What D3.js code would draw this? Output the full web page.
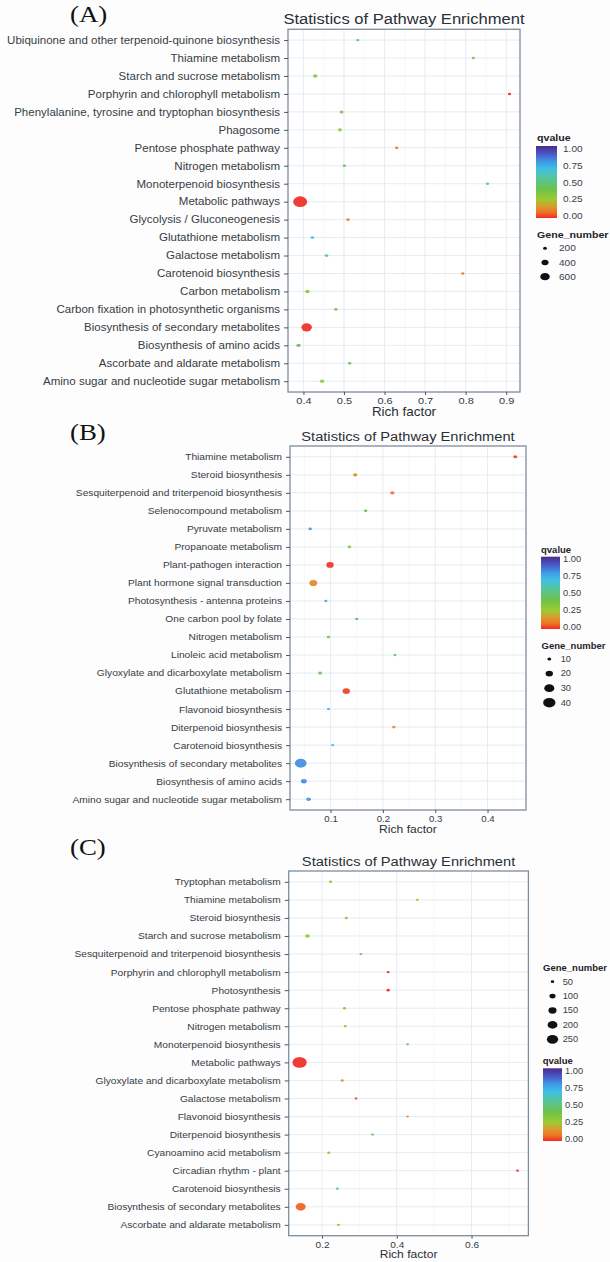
<!DOCTYPE html>
<html><head><meta charset="utf-8">
<script src="https://cdn.jsdelivr.net/npm/d3@7"></script>
<style>
html,body{margin:0;padding:0;background:#fdfdfe;}
svg{display:block;font-family:"Liberation Sans",Arial,Helvetica,sans-serif;}
</style></head><body>
<svg id="chart" width="610" height="1262"></svg>
<script>
// ---------------- DATA ----------------
const categoriesA = ["Ubiquinone and other terpenoid-quinone biosynthesis","Thiamine metabolism","Starch and sucrose metabolism","Porphyrin and chlorophyll metabolism","Phenylalanine, tyrosine and tryptophan biosynthesis","Phagosome","Pentose phosphate pathway","Nitrogen metabolism","Monoterpenoid biosynthesis","Metabolic pathways","Glycolysis / Gluconeogenesis","Glutathione metabolism","Galactose metabolism","Carotenoid biosynthesis","Carbon metabolism","Carbon fixation in photosynthetic organisms","Biosynthesis of secondary metabolites","Biosynthesis of amino acids","Ascorbate and aldarate metabolism","Amino sugar and nucleotide sugar metabolism"];
const richA  = [0.534,0.819,0.429,0.908,0.494,0.490,0.630,0.501,0.854,0.392,0.510,0.422,0.457,0.793,0.410,0.480,0.408,0.388,0.514,0.446];
const qvalA  = [0.45,0.35,0.30,0.01,0.32,0.28,0.12,0.40,0.45,0.00,0.13,0.68,0.60,0.10,0.30,0.38,0.00,0.42,0.40,0.30];
const genesA = [160,165,235,170,200,205,180,175,160,1070,180,180,185,165,230,180,690,225,170,215];

const categoriesB = ["Thiamine metabolism","Steroid biosynthesis","Sesquiterpenoid and triterpenoid biosynthesis","Selenocompound metabolism","Pyruvate metabolism","Propanoate metabolism","Plant-pathogen interaction","Plant hormone signal transduction","Photosynthesis - antenna proteins","One carbon pool by folate","Nitrogen metabolism","Linoleic acid metabolism","Glyoxylate and dicarboxylate metabolism","Glutathione metabolism","Flavonoid biosynthesis","Diterpenoid biosynthesis","Carotenoid biosynthesis","Biosynthesis of secondary metabolites","Biosynthesis of amino acids","Amino sugar and nucleotide sugar metabolism"];
const richB  = [0.453,0.147,0.218,0.167,0.061,0.136,0.099,0.067,0.091,0.150,0.096,0.223,0.080,0.130,0.096,0.221,0.104,0.043,0.049,0.058];
const qvalB  = [0.02,0.12,0.08,0.40,0.78,0.33,0.01,0.12,0.75,0.42,0.38,0.40,0.42,0.02,0.74,0.13,0.67,0.80,0.80,0.78];
const genesB = [10,11,11,9,9,9,20,22,8,9,9,8,10,20,8,9,8,37,15,12];

const categoriesC = ["Tryptophan metabolism","Thiamine metabolism","Steroid biosynthesis","Starch and sucrose metabolism","Sesquiterpenoid and triterpenoid biosynthesis","Porphyrin and chlorophyll metabolism","Photosynthesis","Pentose phosphate pathway","Nitrogen metabolism","Monoterpenoid biosynthesis","Metabolic pathways","Glyoxylate and dicarboxylate metabolism","Galactose metabolism","Flavonoid biosynthesis","Diterpenoid biosynthesis","Cyanoamino acid metabolism","Circadian rhythm - plant","Carotenoid biosynthesis","Biosynthesis of secondary metabolites","Ascorbate and aldarate metabolism"];
const richC  = [0.223,0.455,0.265,0.161,0.304,0.377,0.377,0.260,0.262,0.429,0.140,0.254,0.291,0.429,0.335,0.218,0.723,0.241,0.143,0.244];
const qvalC  = [0.30,0.25,0.30,0.30,0.38,0.01,0.00,0.18,0.22,0.42,0.00,0.15,0.05,0.12,0.38,0.22,0.01,0.55,0.06,0.28];
const genesC = [45,40,45,70,42,45,48,45,42,40,365,45,42,38,40,45,42,42,205,45];

const ticksA = [0.4,0.5,0.6,0.7,0.8,0.9];
const ticksB = [0.1,0.2,0.3,0.4];
const ticksC = [0.2,0.4,0.6];
const qBreaks = [0,0.25,0.5,0.75,1];
const geneBreaksA = [200,400,600];
const geneBreaksB = [10,20,30,40];
const geneBreaksC = [50,100,150,200,250];
const panelLabels = ["(A)","(B)","(C)"];
const titleText = "Statistics of Pathway Enrichment";
const xTitle = "Rich factor";

// ---------------- STYLE / LAYOUT ----------------
const SX = 1.12;
const qStops = [0,0.08,0.16,0.26,0.40,0.55,0.68,0.78,0.88,1];
const qCols  = ["#ef2b25","#ef7424","#d99b2e","#9ccb32","#6cc24a","#58c59a","#3fbfe3","#3d9be6","#4a5ccb","#4b2a8c"];
const color = d3.scaleLinear().domain(qStops).range(qCols).clamp(true);

const svg = d3.select("#chart");
const defs = svg.append("defs");
const grad = defs.append("linearGradient").attr("id","qgrad")
  .attr("x1",0).attr("y1",1).attr("x2",0).attr("y2",0);
grad.selectAll("stop").data(qStops).join("stop")
  .attr("offset",d=>d).attr("stop-color",d=>color(d));

function stretch(sel){
  sel.each(function(){
    const t = d3.select(this);
    const X = +t.attr("x")||0, Y = +t.attr("y")||0;
    t.attr("x",0).attr("y",0).attr("transform",`translate(${X},${Y}) scale(${SX},1)`);
  });
}

const panels = [
  {label:panelLabels[0], cats:categoriesA, rich:richA, q:qvalA, genes:genesA, ticks:ticksA, breaks:geneBreaksA,
   labelY:22, titleY:18.5, titleSize:14.8, box:[288,29.3,520,392], catFont:10.3, tickFont:9.8, xtFont:12, xtY:415.5,
   leg:{font:9, tfont:9.5, qt:[537,141], bar:[536,146,21,72], ql:563, gt:[537,237.5], gx:545, gy:[248.3,276.7], gl:559, r:[1.5,3.65]}},
  {label:panelLabels[1], cats:categoriesB, rich:richB, q:qvalB, genes:genesB, ticks:ticksB, breaks:geneBreaksB,
   labelY:440, titleY:436, titleSize:13.1, box:[290,446,526,810], catFont:9.1, tickFont:8.6, xtFont:10.8, xtY:833,
   leg:{font:8.3, tfont:8.5, qt:[541,552.5], bar:[541,556.7,19,72.3], ql:563, gt:[541.5,649], gx:549.3, gy:[659,702.7], gl:560.7, r:[1.5,4.75]}},
  {label:panelLabels[2], cats:categoriesC, rich:richC, q:qvalC, genes:genesC, ticks:ticksC, breaks:geneBreaksC,
   labelY:855, titleY:861, titleSize:13.1, box:[288.7,871,528.4,1235.7], catFont:9.1, tickFont:9, xtFont:10.8, xtY:1258,
   leg:{font:8.3, tfont:8.5, qt:[542.7,1064], bar:[543,1068.3,19,72.7], ql:565, gt:[543,971], gx:552.5, gy:[981.7,1039.3], gl:562.7, r:[1.35,4.35]}}
];

function drawPanel(p){
  const g = svg.append("g");
  const [x0,y0,x1,y1] = p.box;
  const ext = d3.extent(p.rich), pad = (ext[1]-ext[0])*0.05;
  const x = d3.scaleLinear().domain([ext[0]-pad, ext[1]+pad]).range([x0,x1]);
  const y = d3.scalePoint().domain(p.cats).range([y0,y1]).padding(0.6);
  const r = d3.scalePow().exponent(0.5).domain(d3.extent(p.breaks)).range(p.leg.r);

  g.append("text").attr("x",70).attr("y",p.labelY)
    .attr("font-family","'Liberation Serif','Times New Roman',serif").attr("font-size",24)
    .attr("fill","#111").text(p.label).call(stretch);
  g.append("text").attr("x",(x0+x1)/2).attr("y",p.titleY).attr("dy","0.35em")
    .attr("text-anchor","middle").attr("font-size",p.titleSize).attr("fill","#2a2f35")
    .text(titleText).call(stretch);

  g.append("rect").attr("x",x0).attr("y",y0).attr("width",x1-x0).attr("height",y1-y0).attr("fill","#ffffff");

  const step = p.ticks[1]-p.ticks[0];
  const dom = x.domain();
  const minor = d3.range(p.ticks[0]-step/2, p.ticks[p.ticks.length-1]+step, step).filter(v=>v>dom[0]&&v<dom[1]);
  g.append("g").selectAll("line").data(minor).join("line")
    .attr("x1",d=>x(d)).attr("x2",d=>x(d)).attr("y1",y0).attr("y2",y1)
    .attr("stroke","#eef3f8").attr("stroke-width",0.6);
  g.append("g").selectAll("line").data(p.ticks).join("line")
    .attr("x1",d=>x(d)).attr("x2",d=>x(d)).attr("y1",y0).attr("y2",y1)
    .attr("stroke","#e2eaf2").attr("stroke-width",0.9);
  g.append("g").selectAll("line").data(p.cats).join("line")
    .attr("x1",x0).attr("x2",x1).attr("y1",d=>y(d)).attr("y2",d=>y(d))
    .attr("stroke","#e2eaf2").attr("stroke-width",0.9);

  const data = p.cats.map((c,i)=>({c, rich:p.rich[i], q:p.q[i], n:p.genes[i]}));
  g.append("g").selectAll("ellipse").data(data).join("ellipse")
    .attr("cx",d=>x(d.rich)).attr("cy",d=>y(d.c))
    .attr("ry",d=>Math.max(0.9,r(d.n))).attr("rx",d=>Math.max(0.9,r(d.n))*1.3)
    .attr("fill",d=>color(d.q)).attr("opacity",0.92);

  g.append("rect").attr("x",x0).attr("y",y0).attr("width",x1-x0).attr("height",y1-y0)
    .attr("fill","none").attr("stroke","#7f8d9a").attr("stroke-width",1.3);

  const ya = g.append("g").attr("transform",`translate(${x0},0)`)
    .call(d3.axisLeft(y).tickSize(4).tickPadding(4));
  ya.select(".domain").remove();
  ya.selectAll(".tick line").attr("stroke","#444").attr("stroke-width",0.9);
  ya.selectAll(".tick text").attr("font-size",p.catFont).attr("fill","#363c42")
    .attr("font-family","'Liberation Sans',Arial,sans-serif").call(stretch);

  const xa = g.append("g").attr("transform",`translate(0,${y1})`)
    .call(d3.axisBottom(x).tickValues(p.ticks).tickFormat(d3.format(".1f")).tickSize(3).tickPadding(2.5));
  xa.select(".domain").remove();
  xa.selectAll(".tick line").attr("stroke","#444").attr("stroke-width",0.9);
  xa.selectAll(".tick text").attr("font-size",p.tickFont).attr("fill","#363c42")
    .attr("font-family","'Liberation Sans',Arial,sans-serif").call(stretch);

  g.append("text").attr("x",(x0+x1)/2).attr("y",p.xtY).attr("text-anchor","middle")
    .attr("font-size",p.xtFont).attr("fill","#2a2f35").text(xTitle).call(stretch);

  const L = p.leg;
  g.append("text").attr("x",L.qt[0]).attr("y",L.qt[1]).attr("font-size",L.tfont).attr("font-weight","bold")
    .attr("fill","#1f2328").text("qvalue").call(stretch);
  const [bx,by,bw,bh] = L.bar;
  g.append("rect").attr("x",bx).attr("y",by).attr("width",bw).attr("height",bh).attr("fill","url(#qgrad)");
  const qy = d3.scaleLinear().domain([0,1]).range([by+bh-1.8, by+2.5]);
  g.append("g").selectAll("text").data(qBreaks).join("text")
    .attr("x",L.ql).attr("y",d=>qy(d)).attr("dy","0.35em").attr("font-size",L.font).attr("fill","#3a4046")
    .text(d3.format(".2f")).call(stretch);
  g.append("text").attr("x",L.gt[0]).attr("y",L.gt[1]).attr("font-size",L.tfont).attr("font-weight","bold")
    .attr("fill","#1f2328").text("Gene_number").call(stretch);
  const gy = d3.scalePoint().domain(p.breaks).range(L.gy);
  g.append("g").selectAll("ellipse").data(p.breaks).join("ellipse")
    .attr("cx",L.gx).attr("cy",d=>gy(d)).attr("ry",d=>r(d)).attr("rx",d=>r(d)*1.3).attr("fill","#111");
  g.append("g").selectAll("text").data(p.breaks).join("text")
    .attr("x",L.gl).attr("y",d=>gy(d)).attr("dy","0.35em").attr("font-size",L.font).attr("fill","#3a4046")
    .text(d=>d).call(stretch);
}

panels.forEach(drawPanel);
</script>
</body></html>
